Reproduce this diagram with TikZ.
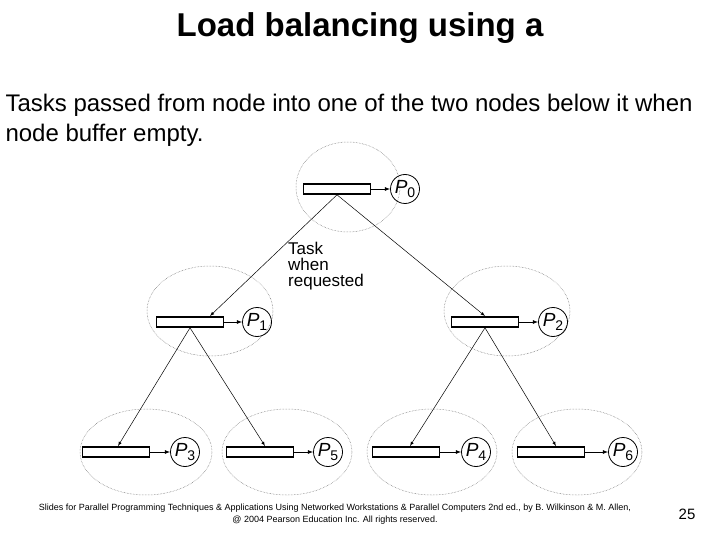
\documentclass[tikz,border=0pt]{standalone}
\usepackage{fontspec}
\setmainfont{Liberation Sans}
\newcommand{\pl}[1]{\textit{P}\raisebox{-0.35ex}{\fontsize{14}{14}\selectfont #1}}
\begin{document}
\begin{tikzpicture}[x=1pt,y=-1pt,
 grp/.style={draw=gray!80!black,densely dotted,line width=0.5pt},
 buf/.style={draw,line width=1.6pt,minimum width=67pt,minimum height=10pt,inner sep=0pt},
 proc/.style={shape=circle,draw=black,line width=0.8pt,minimum size=29pt,inner sep=0pt,font=\fontsize{19}{19}\selectfont},
 tk/.style={-latex,line width=0.5pt},
 pa/.style={-latex,line width=0.8pt}]
\useasboundingbox (0,0) rectangle (720,540);
\node (title) at (360,28) {\fontsize{33}{38}\selectfont\bfseries Load balancing using a};
\node[anchor=west,align=left,font=\fontsize{24}{30}\selectfont] (intro) at (2,120) {Tasks passed from node into one of the two nodes below it when\\node buffer empty.};
% ellipses
\draw[grp] (348,187) ellipse (52 and 45);
\draw[grp] (210,311) ellipse (63 and 45);
\draw[grp] (507,311) ellipse (63 and 45);
\draw[grp] (146,452) ellipse (66 and 43);
\draw[grp] (287,452) ellipse (65 and 43);
\draw[grp] (432,452) ellipse (65 and 43);
\draw[grp] (577,452) ellipse (65 and 43);
% buffers and processors
\node[buf] (b0) at (337,189) {}; \node[proc] (p0) at (405,189) {\pl{0}};
\node[buf] (b1) at (190,322) {}; \node[proc] (p1) at (257,322) {\pl{1}};
\node[buf] (b2) at (485,322) {}; \node[proc] (p2) at (553,322) {\pl{2}};
\node[buf] (b3) at (116,452) {}; \node[proc] (p3) at (185,452) {\pl{3}};
\node[buf] (b5) at (260,452) {}; \node[proc] (p5) at (328,452) {\pl{5}};
\node[buf] (b4) at (406,452) {}; \node[proc] (p4) at (476,452) {\pl{4}};
\node[buf] (b6) at (551,452) {}; \node[proc] (p6) at (623,452) {\pl{6}};
\foreach \b/\p in {b0/p0,b1/p1,b2/p2,b3/p3,b5/p5,b4/p4,b6/p6} \draw[pa] (\b) -- (\p);
% task arrows
\coordinate (t1) at (210,316); \coordinate (t2) at (485,316);
\draw[tk] (b0.south) -- (t1);
\draw[tk] (b0.south) -- (t2);
\draw[tk] (b1.south) -- (118,446);
\draw[tk] (b1.south) -- (265,446);
\draw[tk] (b2.south) -- (410,446);
\draw[tk] (b2.south) -- (556,446);
\node[anchor=north west,align=left,font=\fontsize{17}{16}\selectfont,inner sep=0pt] (task) at (288,242) {Task\\when\\requested};
\node[font=\fontsize{9}{12}\selectfont,align=center] (foot) at (335,514) {Slides for Parallel Programming Techniques \& Applications Using Networked Workstations \& Parallel Computers 2nd ed., by B. Wilkinson \& M. Allen,\\@ 2004 Pearson Education Inc. All rights reserved.};
\node[font=\fontsize{15}{15}\selectfont] (pg) at (687,514) {25};
\end{tikzpicture}
\end{document}
